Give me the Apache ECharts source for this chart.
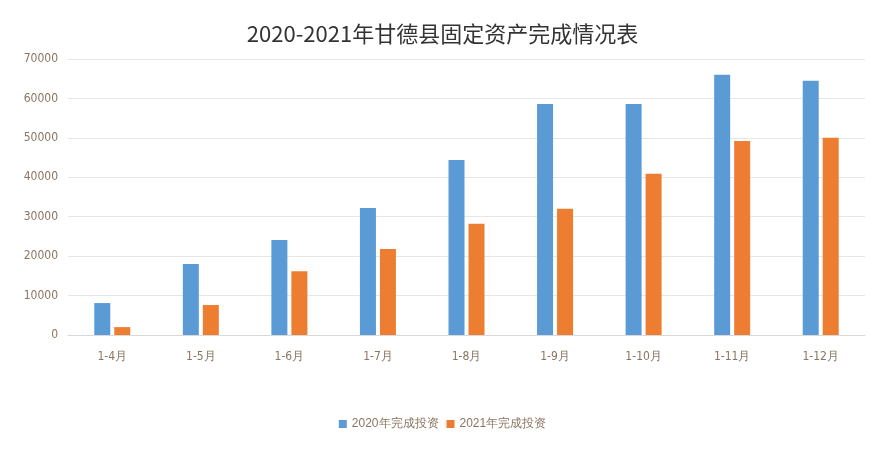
<!DOCTYPE html>
<html><head><meta charset="utf-8">
<script src="https://cdn.jsdelivr.net/npm/echarts@6/dist/echarts.min.js"></script>
<style>html,body{margin:0;padding:0;background:#fff}#c{width:885px;height:457px}</style>
</head><body><div id="c"></div>
<script>
const categories=['1-4月','1-5月','1-6月','1-7月','1-8月','1-9月','1-10月','1-11月','1-12月'];
const s2020=[8100,18000,24100,32200,44400,58600,58600,66000,64500];
const s2021=[2000,7600,16200,21800,28200,32000,40900,49200,50000];
const yTicks={min:0,max:70000,interval:10000};
const chart=echarts.init(document.getElementById('c'));
const lab={color:'#8a7560',fontSize:12,fontFamily:'Liberation Sans Narrow, DejaVu Sans Condensed, sans-serif'};
chart.setOption({
 title:{text:'2020-2021年甘德县固定资产完成情况表',left:'center',top:18,textStyle:{fontSize:22,fontWeight:'normal',color:'#333',fontFamily:'Liberation Sans Narrow, Noto Sans CJK SC, sans-serif'}},
 legend:{bottom:22,itemWidth:8,itemHeight:8,itemGap:8,icon:'rect',textStyle:{color:'#8a7560',fontSize:12}},
 grid:{left:68,right:20,top:59,bottom:122},
 xAxis:{type:'category',data:categories,axisTick:{show:false},axisLine:{lineStyle:{color:'#d9d9d9'}},axisLabel:Object.assign({margin:16},lab)},
 yAxis:{type:'value',min:yTicks.min,max:yTicks.max,interval:yTicks.interval,axisLabel:Object.assign({margin:10,formatter:v=>String(v)},lab),splitLine:{lineStyle:{color:'#e6e6e6'}}},
 series:[
  {name:'2020年完成投资',type:'bar',data:s2020,barWidth:16,barGap:'25%',itemStyle:{color:'#5b9bd5'}},
  {name:'2021年完成投资',type:'bar',data:s2021,barWidth:16,itemStyle:{color:'#ed7d31'}}
 ]
});
</script></body></html>
